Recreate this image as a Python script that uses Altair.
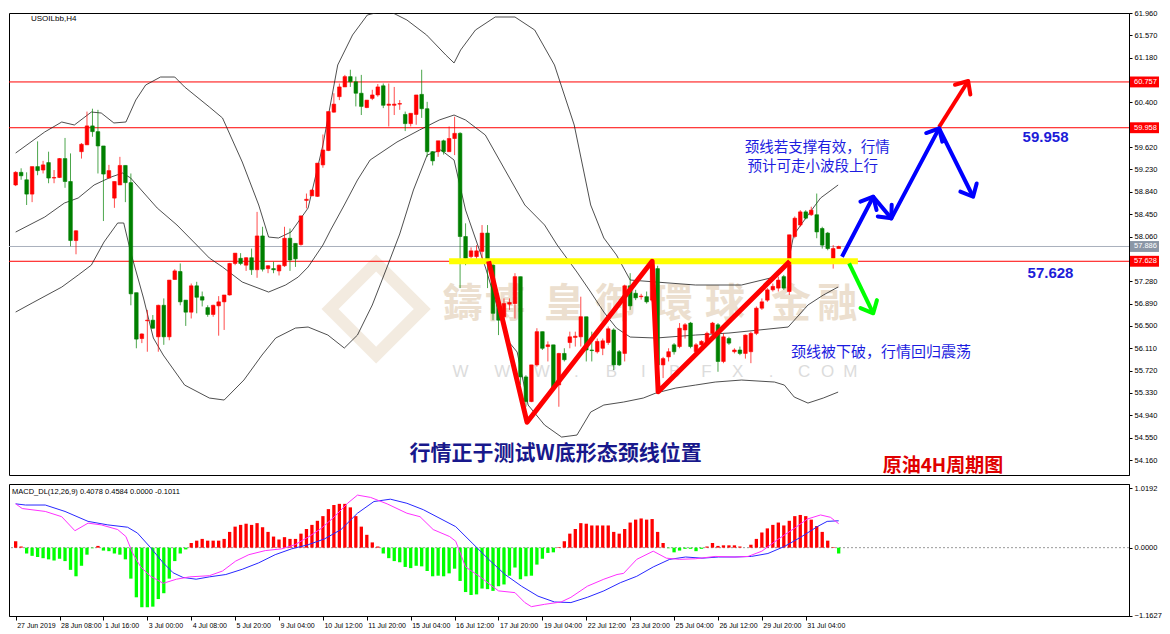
import json
import math
import altair as alt
import pandas as pd

# ---------------- price bars (USOILbb H4, bar 0 = 27 Jun 2019) ----------------
bar_idx = list(range(151))
opens = [58.96, 59.18, 59.05, 58.80, 59.28, 59.22, 59.35, 59.08, 59.09, 59.42,
         59.02, 57.99, 59.54, 59.66, 59.99, 59.89, 59.64, 59.08, 58.73, 58.96,
         59.30, 59.00, 57.08, 56.28, 56.59, 56.60, 56.31, 56.86, 56.31, 57.31,
         57.45, 56.95, 56.74, 57.20, 57.01, 56.82, 56.70, 56.85, 56.92, 57.04,
         57.59, 57.68, 57.56, 57.69, 57.48, 58.07, 57.50, 57.50, 57.46, 57.55,
         58.03, 57.94, 57.92, 58.69, 58.77, 58.76, 59.31, 59.56, 60.23, 60.50,
         60.67, 60.85, 60.76, 60.56, 60.31, 60.47, 60.53, 60.69, 60.35, 60.35,
         60.37, 60.19, 60.03, 60.19, 60.54, 60.29, 59.54, 59.54, 59.73, 59.54,
         59.77, 59.86, 58.06, 57.71, 57.71, 57.80, 58.12, 57.56, 56.87, 56.66,
         56.88, 56.89, 57.36, 55.61, 55.18, 55.82, 56.40, 56.14, 56.17, 55.47,
         56.02, 56.21, 56.30, 56.31, 56.66, 56.08, 56.05, 56.11, 56.21, 56.43,
         56.05, 56.02, 57.20, 57.07, 57.01, 57.01, 56.95, 57.50, 55.82, 55.96,
         56.17, 56.14, 56.43, 56.55, 56.05, 56.17, 56.20, 56.37, 56.52, 55.88,
         56.28, 56.05, 56.08, 56.02, 56.05, 56.37, 56.81, 56.95, 57.13, 57.16,
         57.36, 57.10, 58.06, 58.26, 58.49, 58.44, 58.44, 58.20, 58.12, 57.68,
         57.85]
highs = [59.20, 59.25, 59.18, 59.28, 59.72, 59.38, 59.54, 59.22, 59.43, 59.78,
         59.51, 58.17, 59.69, 60.24, 60.29, 60.27, 59.64, 59.31, 59.02, 59.45,
         59.30, 59.16, 57.08, 56.37, 56.78, 56.69, 56.87, 56.98, 57.30, 57.49,
         57.59, 56.95, 57.24, 57.27, 57.10, 56.86, 56.87, 57.02, 57.04, 57.60,
         57.77, 57.77, 57.70, 57.85, 58.49, 58.23, 57.56, 57.62, 57.57, 58.23,
         58.20, 57.94, 58.42, 58.81, 58.88, 59.34, 59.84, 60.24, 60.56, 60.73,
         60.88, 60.97, 60.85, 60.88, 60.44, 60.62, 60.72, 60.73, 60.73, 60.67,
         60.44, 60.24, 60.21, 60.53, 60.97, 60.41, 59.55, 59.73, 59.75, 59.98,
         60.15, 59.88, 58.29, 57.87, 57.91, 58.26, 58.26, 57.58, 56.90, 56.98,
         56.98, 57.42, 57.36, 55.64, 55.82, 56.46, 56.40, 56.23, 56.17, 56.03,
         56.11, 56.40, 56.40, 57.01, 56.66, 56.40, 56.28, 56.28, 56.49, 56.46,
         56.08, 57.22, 57.42, 57.13, 57.06, 57.10, 57.59, 57.55, 55.96, 56.11,
         56.20, 56.55, 56.55, 56.57, 56.20, 56.25, 56.40, 56.57, 56.55, 56.37,
         56.31, 56.11, 56.14, 56.35, 56.40, 56.84, 56.98, 57.16, 57.24, 57.36,
         57.39, 58.09, 58.41, 58.52, 58.52, 58.58, 58.81, 58.23, 58.14, 57.91,
         57.90]
lows = [58.94, 59.05, 58.61, 58.66, 59.13, 59.16, 58.99, 58.99, 59.08, 58.91,
        57.89, 57.75, 59.42, 59.66, 59.80, 59.16, 58.33, 59.08, 58.56, 58.96,
        58.66, 56.86, 56.11, 56.20, 56.05, 56.45, 56.05, 56.17, 56.25, 57.31,
        56.86, 56.50, 56.63, 56.72, 56.84, 56.66, 56.66, 56.33, 56.43, 57.03,
        57.56, 57.56, 57.46, 57.39, 57.34, 57.45, 57.42, 57.42, 57.38, 57.53,
        57.46, 57.53, 57.90, 58.55, 58.77, 58.75, 59.26, 59.55, 60.22, 60.44,
        60.67, 60.67, 60.33, 60.18, 60.30, 60.44, 60.50, 60.30, 59.98, 60.18,
        60.27, 59.90, 59.98, 60.01, 60.13, 59.45, 59.30, 59.45, 59.49, 59.54,
        59.48, 57.16, 57.56, 57.68, 57.65, 57.68, 57.16, 56.60, 56.34, 56.60,
        56.78, 56.63, 55.47, 55.09, 55.17, 55.79, 56.08, 55.88, 55.38, 55.09,
        55.88, 56.11, 56.14, 56.14, 55.88, 55.88, 56.02, 55.99, 56.17, 55.73,
        55.80, 55.88, 56.78, 56.95, 56.96, 56.89, 56.92, 55.70, 55.59, 55.88,
        56.00, 56.11, 56.28, 56.11, 56.02, 56.08, 56.17, 56.34, 55.70, 55.85,
        56.17, 56.02, 55.99, 55.93, 55.85, 56.34, 56.78, 56.92, 57.10, 57.10,
        57.13, 57.04, 58.03, 58.23, 58.36, 58.42, 58.03, 57.85, 57.82, 57.50,
        57.85]
closes = [59.18, 59.12, 58.80, 59.28, 59.21, 59.31, 59.08, 59.09, 59.42, 59.02,
          57.99, 58.16, 59.67, 59.99, 59.89, 59.64, 59.15, 59.21, 59.02, 59.30,
          59.00, 57.06, 56.27, 56.36, 56.60, 56.46, 56.86, 56.31, 57.30, 57.46,
          56.92, 56.74, 57.20, 57.00, 56.95, 56.70, 56.86, 56.92, 57.04, 57.59,
          57.77, 57.59, 57.69, 57.48, 58.07, 57.49, 57.55, 57.48, 57.56, 58.03,
          57.65, 57.67, 58.42, 58.71, 58.87, 59.34, 59.57, 60.24, 60.37, 60.67,
          60.85, 60.76, 60.56, 60.33, 60.44, 60.53, 60.67, 60.35, 60.37, 60.37,
          60.38, 60.03, 60.21, 60.53, 60.29, 59.54, 59.38, 59.73, 59.54, 59.77,
          59.86, 58.06, 57.68, 57.81, 57.81, 58.12, 57.59, 56.72, 56.60, 56.89,
          56.91, 57.36, 55.61, 55.18, 55.82, 56.40, 56.11, 56.17, 55.41, 56.02,
          55.91, 56.31, 56.32, 56.66, 56.08, 56.07, 56.23, 56.24, 56.45, 55.82,
          55.82, 57.20, 56.85, 56.99, 57.02, 56.92, 57.56, 55.82, 55.93, 56.05,
          56.05, 56.46, 56.52, 56.14, 56.17, 56.23, 56.37, 56.55, 55.88, 56.31,
          56.20, 56.08, 56.02, 56.34, 56.37, 56.81, 56.92, 57.13, 57.19, 57.30,
          57.16, 58.09, 58.38, 58.49, 58.38, 58.52, 58.14, 57.91, 57.85, 57.85,
          57.886]

# ---------------- Bollinger bands ----------------
ub_i = [0, 5.3, 8.4, 10.7, 13.8, 15.6, 17.9, 20.1, 21.9, 23.7, 26.4, 29.0, 30.8, 35.3, 37.7,
        41.3, 44.3, 46.1, 47.9, 50.2, 53.3, 56.0, 58.7, 61.4, 64.1, 67.7, 71.3, 74.9, 78.4, 79.9,
        81.1, 83.8, 87.4, 91.0, 94.6, 98.2, 101.8, 104.8, 107.2, 109.5, 112.0, 116.7, 123.9, 132.3,
        138.3, 140.8, 141.8, 144.4, 146.7, 149.9]
ub_p = [59.517, 59.884, 60.058, 60.006, 60.232, 60.215, 60.041, 60.058, 60.442, 60.704, 60.843,
        60.843, 60.669, 60.32, 60.128, 59.36, 58.61, 58.051, 58.034, 58.139, 58.557, 59.657, 61.053,
        61.576, 61.925, 62.012, 61.838, 61.576, 61.227, 61.088, 61.314, 61.663, 61.89, 61.89, 61.663,
        61.053, 60.006, 58.61, 58.034, 57.738, 57.301, 57.266, 57.214, 57.214, 57.353, 57.598, 58.086,
        58.435, 58.732, 58.959]
mb_i = [0, 5.3, 8.9, 11.4, 14.3, 17.4, 19.5, 20.96, 25.8, 29.4, 33.0, 35.3, 37.7, 41.3, 46.1,
        49.2, 51.5, 53.3, 56.0, 57.4, 59.9, 62.3, 64.6, 69.5, 73.6, 77.2, 79.9, 82.0, 85.6, 89.2,
        92.8, 96.4, 98.7, 102.3, 104.8, 107.2, 109.5, 112.0, 116.7, 123.9, 130.0, 135.4, 140.8,
        144.4, 147.2, 149.9]
mb_p = [58.138, 58.4, 58.645, 58.732, 58.959, 59.098, 59.168, 59.081, 58.557, 58.261, 57.911,
        57.685, 57.528, 57.266, 57.091, 57.214, 57.353, 57.528, 57.911, 58.173, 58.61, 59.046,
        59.395, 59.709, 59.918, 60.093, 60.18, 60.093, 59.831, 59.22, 58.61, 58.261, 57.911, 57.44,
        57.091, 56.742, 56.463, 56.306, 56.289, 56.341, 56.376, 56.428, 56.481, 56.865, 57.039, 57.179]
lb_i = [0, 3.0, 8.4, 11.4, 13.8, 16.1, 18.6, 19.7, 20.96, 23.3, 25.1, 26.9, 30.8, 35.3, 38.0,
        41.6, 44.9, 47.4, 51.0, 53.3, 56.9, 59.9, 62.3, 65.0, 67.7, 70.0, 72.5, 75.0, 77.5, 79.9,
        82.0, 85.6, 89.6, 91.4, 93.4, 96.4, 99.5, 102.3, 104.8, 107.2, 110.8, 114.4, 116.7, 120.3,
        123.9, 127.5, 132.3, 138.3, 140.1, 141.9, 144.4, 147.2, 149.9]
lb_p = [56.742, 56.899, 57.178, 57.388, 57.562, 57.964, 58.296, 58.296, 57.789, 56.987, 56.289,
        55.992, 55.468, 55.242, 55.207, 55.556, 55.992, 56.289, 56.463, 56.481, 56.341, 56.114,
        56.341, 56.865, 57.528, 58.104, 58.872, 59.482, 59.57, 59.395, 58.522, 57.528, 56.254,
        56.045, 55.12, 54.771, 54.561, 54.596, 54.997, 55.12, 55.172, 55.242, 55.329, 55.416,
        55.468, 55.521, 55.556, 55.521, 55.468, 55.259, 55.154, 55.242, 55.346]

# ---------------- MACD_DL(12,26,9) ----------------
macd_hist = [0.11, 0.02, -0.10, -0.14, -0.16, -0.18, -0.20, -0.22, -0.19, -0.23,
             -0.38, -0.49, -0.31, -0.12, -0.01, 0.03, -0.05, -0.06, -0.10, -0.12,
             -0.20, -0.53, -0.85, -1.02, -1.02, -1.01, -0.88, -0.78, -0.53, -0.23,
             -0.10, -0.03, 0.08, 0.12, 0.15, 0.12, 0.12, 0.12, 0.15, 0.27,
             0.36, 0.39, 0.41, 0.39, 0.42, 0.35, 0.27, 0.19, 0.14, 0.18,
             0.15, 0.15, 0.24, 0.32, 0.39, 0.46, 0.54, 0.66, 0.73, 0.75,
             0.75, 0.69, 0.54, 0.36, 0.22, 0.09, 0.02, -0.10, -0.18, -0.23,
             -0.25, -0.33, -0.35, -0.31, -0.32, -0.40, -0.49, -0.48, -0.49, -0.44,
             -0.36, -0.57, -0.76, -0.81, -0.80, -0.70, -0.71, -0.74, -0.66, -0.63,
             -0.48, -0.34, -0.54, -0.49, -0.48, -0.29, -0.19, -0.09, -0.08, 0.01,
             0.11, 0.24, 0.32, 0.42, 0.41, 0.38, 0.38, 0.38, 0.38, 0.27,
             0.24, 0.32, 0.43, 0.48, 0.50, 0.48, 0.49, 0.27, 0.08, -0.01,
             -0.08, -0.05, -0.02, -0.02, -0.06, -0.02, 0.02, 0.08, 0.03, 0.04,
             0.04, 0.04, 0.02, 0.00, 0.05, 0.15, 0.26, 0.33, 0.39, 0.43,
             0.38, 0.46, 0.54, 0.56, 0.54, 0.48, 0.37, 0.27, 0.12, 0.01,
             -0.10]
blue_i = [0, 1.8, 5.4, 9.0, 13.2, 16.8, 20.4, 22.2, 24.6, 26.9, 28.7, 30.5, 32.9, 35.3, 38.3,
          41.3, 44.3, 47.3, 50.3, 53.3, 56.3, 59.3, 62.3, 65.3, 68.3, 71.3, 74.3, 80.2, 83.2, 86.2,
          89.2, 92.2, 95.2, 98.2, 101.2, 104.2, 107.2, 110.2, 113.2, 116.2, 119.2, 122.1, 125.1,
          128.1, 131.1, 134.1, 137.1, 140.1, 143.1, 146.1, 147.9, 150]
blue_v = [0.75, 0.73, 0.73, 0.62, 0.45, 0.39, 0.35, 0.25, 0.0, -0.26, -0.43, -0.51, -0.54, -0.50,
          -0.46, -0.37, -0.26, -0.12, -0.02, 0.05, 0.15, 0.31, 0.59, 0.79, 0.83, 0.76, 0.65, 0.36,
          0.08, -0.20, -0.46, -0.66, -0.83, -0.93, -0.94, -0.85, -0.74, -0.60, -0.49, -0.33, -0.20,
          -0.16, -0.18, -0.16, -0.16, -0.15, -0.10, 0.02, 0.18, 0.36, 0.45, 0.46]
mag_i = [0, 1.2, 5.4, 8.4, 10.8, 13.2, 15.6, 18.6, 20.1, 21.3, 22.8, 24.6, 26.9, 29.3, 31.7,
         35.3, 37.7, 40.1, 42.5, 45.5, 48.5, 50.9, 53.3, 55.7, 58.1, 60.5, 62.3, 64.7, 67.7, 71.3,
         73.7, 76.1, 79.1, 80.2, 82.0, 84.5, 88.0, 91.0, 92.8, 94.0, 96.4, 99.4, 101.2, 104.2, 107.2,
         109.6, 110.8, 113.2, 116.2, 118.6, 121.0, 123.9, 127.5, 131.1, 133.5, 136.0, 138.9, 141.9,
         144.3, 146.7, 148.5, 150]
mag_v = [0.75, 0.67, 0.62, 0.53, 0.29, 0.42, 0.39, 0.31, 0.19, -0.09, -0.33, -0.49, -0.61, -0.54,
         -0.50, -0.48, -0.40, -0.23, -0.12, -0.05, -0.02, 0.05, 0.18, 0.33, 0.53, 0.76, 0.90, 0.86,
         0.75, 0.59, 0.53, 0.31, 0.19, 0.11, -0.33, -0.49, -0.74, -0.77, -0.94, -1.01, -0.97, -0.93,
         -0.85, -0.66, -0.54, -0.46, -0.44, -0.20, -0.06, -0.18, -0.20, -0.19, -0.15, -0.16, -0.15,
         -0.06, 0.14, 0.33, 0.49, 0.56, 0.52, 0.41]

# ---------------- levels, pattern and forecast paths ----------------
level_prices = [60.757, 59.958, 57.628]
level_texts = ["60.757", "59.958", "57.628"]
bid_price = [57.886]
bid_text = ["57.886"]
neck_i = [79.0, 153.5]
neck_p = [57.628, 57.628]
w_i = [86.2, 93.2, 116.0, 117.1, 141.1]
w_p = [57.628, 54.82, 57.628, 55.35, 57.628]
blue_path_i = [150.6, 156.3, 159.6, 168.3, 174.5]
blue_path_p = [57.707, 58.754, 58.377, 59.948, 58.754]
red_arrow_i = [168.3, 173.6]
red_arrow_p = [59.97, 60.773]
green_arrow_i = [151.9, 156.3]
green_arrow_p = [57.59, 56.72]

# ---------------- text ----------------
time_labels = ["27 Jun 2019", "28 Jun 08:00", "1 Jul 16:00", "3 Jul 00:00", "4 Jul 08:00",
               "5 Jul 20:00", "9 Jul 04:00", "10 Jul 12:00", "11 Jul 20:00", "15 Jul 04:00",
               "16 Jul 12:00", "17 Jul 20:00", "19 Jul 04:00", "22 Jul 12:00", "23 Jul 20:00",
               "25 Jul 04:00", "26 Jul 12:00", "29 Jul 20:00", "31 Jul 04:00"]
time_ticks = [0, 8, 16, 24, 32, 40, 48, 56, 64, 72, 80, 88, 96, 104, 112, 120, 128, 136, 144]
# price scale labels that stay visible (the others sit under the level tags)
price_ticks = [61.960, 61.570, 61.180, 60.400, 59.620, 59.230, 58.840, 58.450,
               58.060, 57.280, 56.890, 56.500, 56.110, 55.720, 55.330, 54.940, 54.550, 54.160]
macd_ticks = [1.0192, 0.0, -1.1627]
up_note = ["颈线若支撑有效，行情", "预计可走小波段上行"]
up_note_i = [132.9, 133.4]
up_note_p = [59.61, 59.27]
down_note = ["颈线被下破，行情回归震荡"]
down_note_i = [141.3]
down_note_p = [56.05]
lvl_note = ["59.958", "57.628"]
lvl_note_i = [187.7, 188.6]
lvl_note_p = [59.79, 57.418]
main_title = ["行情正于测试W底形态颈线位置"]
main_title_i = [98.4]
main_title_p = [54.265]
tag_title = ["原油4H周期图"]
tag_title_i = [169.0]
tag_title_p = [54.055]
wm_chars = list("鑄博皇御環球金融")
wm_i = [81.5, 89.2, 100.0, 109.3, 119.8, 129.3, 141.3, 149.8]
wm_p = [56.865] * 8
url_chars = list("WWW.BIBFX.COM")
url_i = [81.1, 88.7, 95.9, 102.2, 108.6, 114.4, 120.1, 125.9, 131.6, 137.7, 143.7, 148.0, 152.1]
url_p = [55.70] * 13

# ---------------- layout ----------------
W, H1, H2 = 1120, 462, 132
X_DOM = [-0.3, 202.0]
Y_DOM = [53.899, 61.96]
M_DOM = [-1.17, 1.09]
xs = alt.Scale(domain=X_DOM, nice=False, zero=False)
ys = alt.Scale(domain=Y_DOM, nice=False, zero=False)
ms = alt.Scale(domain=M_DOM, nice=False, zero=False)
AX_FONT = "Liberation Sans"
CJK = "Noto Sans CJK SC"

yaxis = alt.Axis(orient="right", values=price_ticks, format=".3f", title=None, grid=False,
                 labelFontSize=7.5, labelFont=AX_FONT, labelColor="#000", tickColor="#000",
                 tickSize=3, domainColor="#000", labelPadding=2, labelOverlap=False)
maxis = alt.Axis(orient="right", values=macd_ticks, format=".4f", title=None, grid=False,
                 labelFontSize=7.5, labelFont=AX_FONT, labelColor="#000", tickColor="#000",
                 tickSize=3, domainColor="#000", labelPadding=2, labelOverlap=False)
label_expr = json.dumps(time_labels) + "[round(datum.value / 8)]"
xaxis_m = alt.Axis(values=time_ticks, labelExpr=label_expr, title=None, grid=False,
                   labelAlign="left", labelFontSize=7, labelFont=AX_FONT, labelColor="#000",
                   tickColor="#000", tickSize=4, domainColor="#000", labelPadding=1,
                   labelOverlap=False, labelFlush=False, labelOffset=1)


def X(f):
    return alt.X(f, type="quantitative", scale=xs, axis=None)


def Y(f):
    return alt.Y(f, type="quantitative", scale=ys, axis=yaxis)


def XM(f):
    return alt.X(f, type="quantitative", scale=xs, axis=xaxis_m)


def YM(f):
    return alt.Y(f, type="quantitative", scale=ms, axis=maxis)


# ---------------- frames ----------------
cdf = pd.DataFrame({"i": bar_idx, "o": opens, "h": highs, "l": lows, "c": closes})
cdf["h"] = cdf[["h", "o", "c"]].max(axis=1)
cdf["l"] = cdf[["l", "o", "c"]].min(axis=1)
cdf["col"] = ["#ff0000" if c >= o else "#008000" for o, c in zip(cdf["o"], cdf["c"])]

bb = pd.concat([
    pd.DataFrame({"i": ub_i, "p": ub_p, "band": "upper"}),
    pd.DataFrame({"i": mb_i, "p": mb_p, "band": "middle"}),
    pd.DataFrame({"i": lb_i, "p": lb_p, "band": "lower"}),
])

pxb = W / (X_DOM[1] - X_DOM[0])
pxp = H1 / (Y_DOM[1] - Y_DOM[0])


def heading(i0, p0, i1, p1):
    dx = (i1 - i0) * pxb
    dy = -(p1 - p0) * pxp
    return math.degrees(math.atan2(dx, -dy))


heads = []
for k in range(1, len(blue_path_i)):
    heads.append({"i": blue_path_i[k], "p": blue_path_p[k], "col": "#0000ff",
                  "ang": heading(blue_path_i[k - 1], blue_path_p[k - 1], blue_path_i[k], blue_path_p[k])})
heads.append({"i": red_arrow_i[1], "p": red_arrow_p[1], "col": "#ff0000",
              "ang": heading(red_arrow_i[0], red_arrow_p[0], red_arrow_i[1], red_arrow_p[1])})
heads.append({"i": green_arrow_i[1], "p": green_arrow_p[1], "col": "#00ff00",
              "ang": heading(green_arrow_i[0], green_arrow_p[0], green_arrow_i[1], green_arrow_p[1])})
heads_df = pd.DataFrame(heads)

# ---------------- main panel layers ----------------
wm = alt.Chart(pd.DataFrame({"i": wm_i, "p": wm_p, "t": wm_chars})).mark_text(
    font=CJK, fontSize=40, color="#ecdfcf", fontWeight="bold").encode(x=X("i"), y=Y("p"), text="t:N")
url = alt.Chart(pd.DataFrame({"i": url_i, "p": url_p, "t": url_chars})).mark_text(
    font="Liberation Sans", fontSize=17, color="#dcdcdc").encode(x=X("i"), y=Y("p"), text="t:N")
logo = alt.Chart(pd.DataFrame({"i": [65.7], "p": [56.795]})).mark_point(
    shape="diamond", size=8500, filled=False, strokeWidth=12, color="#efe3d3").encode(x=X("i"), y=Y("p"))

hl = alt.Chart(pd.DataFrame({"p": level_prices})).mark_rule(color="#ff0000", strokeWidth=1).encode(y=Y("p"))
bid = alt.Chart(pd.DataFrame({"p": bid_price})).mark_rule(color="#a9b1bd", strokeWidth=1).encode(y=Y("p"))

bands = alt.Chart(bb).mark_line(color="#222222", strokeWidth=0.8, clip=True).encode(
    x=X("i"), y=Y("p"), detail="band:N")

wick = alt.Chart(cdf).mark_rule(strokeWidth=1, opacity=0.7).encode(
    x=X("i"), y=Y("l"), y2=alt.Y2("h"), color=alt.Color("col:N", scale=None))
body = alt.Chart(cdf).mark_bar(size=3.6, strokeWidth=0.6).encode(
    x=X("i"), y=Y("o"), y2=alt.Y2("c"),
    color=alt.Color("col:N", scale=None),
    stroke=alt.Stroke("col:N", scale=None))

neck = alt.Chart(pd.DataFrame({"i": neck_i, "p": neck_p})).mark_line(
    color="#ffff00", strokeWidth=6, strokeCap="butt").encode(x=X("i"), y=Y("p"))
wline = alt.Chart(pd.DataFrame({"i": w_i, "p": w_p, "k": range(len(w_i))})).mark_line(
    color="#ff0000", strokeWidth=5, strokeJoin="round").encode(x=X("i"), y=Y("p"), order="k:Q")
bpath = alt.Chart(pd.DataFrame({"i": blue_path_i, "p": blue_path_p, "k": range(len(blue_path_i))})).mark_line(
    color="#0000ff", strokeWidth=4, strokeJoin="round").encode(x=X("i"), y=Y("p"), order="k:Q")
rpath = alt.Chart(pd.DataFrame({"i": red_arrow_i, "p": red_arrow_p})).mark_line(
    color="#ff0000", strokeWidth=4).encode(x=X("i"), y=Y("p"))
gpath = alt.Chart(pd.DataFrame({"i": green_arrow_i, "p": green_arrow_p})).mark_line(
    color="#00ff00", strokeWidth=4).encode(x=X("i"), y=Y("p"))
arrowheads = alt.Chart(heads_df).mark_point(
    shape="M -0.8 0.9 L 0 0 L 0.8 0.9", size=520, filled=False, strokeWidth=4,
    strokeCap="round", strokeJoin="round", opacity=1).encode(
    x=X("i"), y=Y("p"), color=alt.Color("col:N", scale=None), angle=alt.Angle("ang:Q", scale=None))

t_up = alt.Chart(pd.DataFrame({"i": up_note_i, "p": up_note_p, "t": up_note})).mark_text(
    font=CJK, fontSize=14.5, color="#1c1ce0", align="left", baseline="middle").encode(
    x=X("i"), y=Y("p"), text="t:N")
t_down = alt.Chart(pd.DataFrame({"i": down_note_i, "p": down_note_p, "t": down_note})).mark_text(
    font=CJK, fontSize=15, color="#1c1ce0", align="left", baseline="middle").encode(
    x=X("i"), y=Y("p"), text="t:N")
t_lvl = alt.Chart(pd.DataFrame({"i": lvl_note_i, "p": lvl_note_p, "t": lvl_note})).mark_text(
    font="Liberation Sans", fontSize=15, fontWeight="bold", color="#1c1cd8", baseline="middle").encode(
    x=X("i"), y=Y("p"), text="t:N")
t_main = alt.Chart(pd.DataFrame({"i": main_title_i, "p": main_title_p, "t": main_title})).mark_text(
    font=CJK, fontSize=21, fontWeight="bold", color="#18188c", baseline="middle").encode(
    x=X("i"), y=Y("p"), text="t:N")
t_tag = alt.Chart(pd.DataFrame({"i": tag_title_i, "p": tag_title_p, "t": tag_title})).mark_text(
    font=CJK, fontSize=19, fontWeight="bold", color="#e00000", baseline="middle").encode(
    x=X("i"), y=Y("p"), text="t:N")

lvl_df = pd.DataFrame({"p": level_prices + bid_price, "t": level_texts + bid_text,
                       "bg": ["#ff0000", "#ff0000", "#ff0000", "#8a96a6"]})
tag_rect = alt.Chart(lvl_df).transform_calculate(lo="datum.p - 0.095", hi="datum.p + 0.095").mark_rect().encode(
    x=alt.value(W + 1), x2=alt.value(W + 30), y=Y("lo:Q"), y2=alt.Y2("hi"),
    color=alt.Color("bg:N", scale=None))
tag_txt = alt.Chart(lvl_df).mark_text(font=AX_FONT, fontSize=7.5, color="white", align="left",
                                      baseline="middle").encode(
    x=alt.value(W + 5), y=Y("p"), text="t:N")

sym = alt.Chart(pd.DataFrame({"t": ["USOILbb,H4"]})).mark_text(
    font=AX_FONT, fontSize=8, align="left", baseline="middle", color="#000").encode(
    x=alt.value(22), y=alt.value(6), text="t:N")

main = alt.layer(wm, url, logo, hl, bid, bands, wick, body, neck, wline, bpath, rpath, gpath,
                 arrowheads, t_up, t_down, t_lvl, t_main, t_tag, tag_rect, tag_txt, sym).properties(
    width=W, height=H1)

# ---------------- MACD panel ----------------
hdf = pd.DataFrame({"i": bar_idx, "v": macd_hist, "z": 0.0})
hdf["col"] = ["#ff0000" if v > 0 else "#00ff00" for v in hdf["v"]]
hist = alt.Chart(hdf).mark_bar(size=3.3).encode(
    x=XM("i"), y=YM("v"), y2=alt.Y2("z"), color=alt.Color("col:N", scale=None))
zero = alt.Chart(pd.DataFrame({"z": [0.0]})).mark_rule(color="#9a9a9a", strokeDash=[2, 2], strokeWidth=1).encode(
    y=YM("z"))
blue = alt.Chart(pd.DataFrame({"i": blue_i, "v": blue_v})).mark_line(color="#2828ff", strokeWidth=1).encode(
    x=XM("i"), y=YM("v"))
mag = alt.Chart(pd.DataFrame({"i": mag_i, "v": mag_v})).mark_line(color="#ff30ff", strokeWidth=1).encode(
    x=XM("i"), y=YM("v"))
mlabel = alt.Chart(pd.DataFrame({"t": ["MACD_DL(12,26,9) 0.4078 0.4584 0.0000 -0.1011"]})).mark_text(
    font=AX_FONT, fontSize=7.5, align="left", baseline="middle", color="#000").encode(
    x=alt.value(3), y=alt.value(8), text="t:N")

macd = alt.layer(zero, hist, blue, mag, mlabel).properties(width=W, height=H2)

chart = alt.VConcatChart(vconcat=[main, macd], spacing=6, padding=0, background="white").configure_view(
    stroke="#000000", strokeWidth=1, fill="white")

chart.save("out.html", embed_options={"renderer": "svg", "actions": False})
